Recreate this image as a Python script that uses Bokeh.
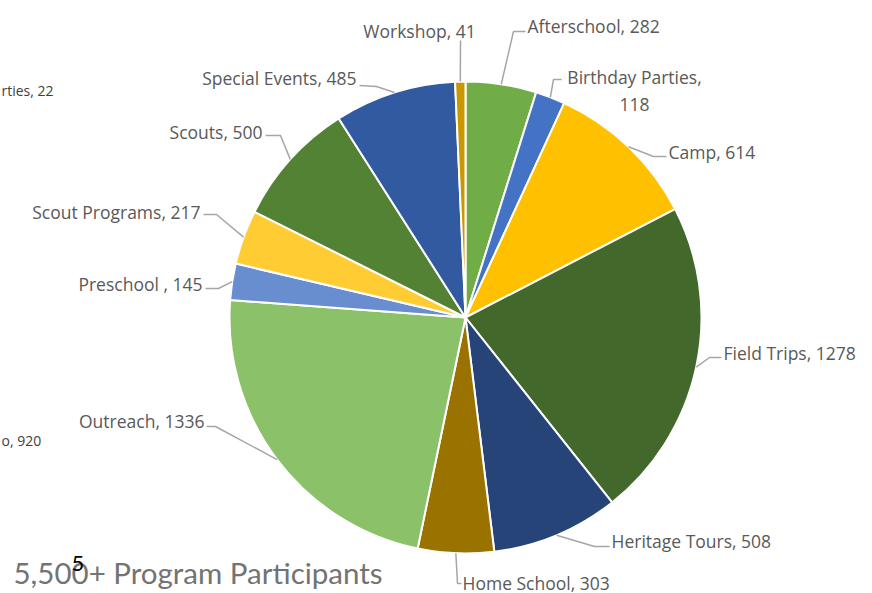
import math
from bokeh.plotting import figure
from bokeh.models import Range1d, ColumnDataSource
from bokeh.core.properties import value
from bokeh.embed import file_html
from bokeh.resources import INLINE

# ---- data ----
categories = ["Afterschool", "Birthday Parties", "Camp", "Field Trips", "Heritage Tours",
              "Home School", "Outreach", "Preschool ", "Scout Programs", "Scouts",
              "Special Events", "Workshop"]
values = [282, 118, 614, 1278, 508, 303, 1336, 145, 217, 500, 485, 41]
colors = ["#70AD47", "#4472C4", "#FFC000", "#43682B", "#264478", "#9A7200",
          "#8BC168", "#698ED0", "#FFCD33", "#548235", "#325AA0", "#C99700"]
title_text = "5,500+ Program Participants"
stray_labels = ["rties, 22", "o, 920"]

# ---- layout (image pixel coordinates) ----
W, H = 872, 593
def Y(img_y):
    return H - img_y

cx, cy, r = 465, Y(317), 236
# text x, text y, align, elbow x, elbow y, end x, end y
label_layout = [
    (527, 25, "left", 513, 31, 525, 31),
    (634, 90, "center", 553, 79, 561, 79),
    (668, 151, "left", 653, 156, 666, 156),
    (723, 352, "left", 709, 357, 721, 357),
    (611, 540, "left", 594, 546, 609, 546),
    (462, 582, "left", 457, 583, 461, 583),
    (204, 420, "right", 215, 426, 206, 426),
    (202, 283, "right", 218, 288, 205, 288),
    (200, 211, "right", 216, 214, 203, 214),
    (262, 131, "right", 280, 135, 265, 135),
    (356, 77, "right", 376, 86, 359, 85),
    (419, 30, "center", 460, 40, 460, 40),
]

p = figure(width=W, height=H, x_range=Range1d(0, W), y_range=Range1d(0, H),
           output_backend="svg", toolbar_location=None, min_border=0,
           x_axis_location=None, y_axis_location=None)
p.grid.visible = False
p.outline_line_color = None
p.background_fill_color = "white"

total = sum(values)
starts, ends, mids = [], [], []
cum = 0
for v in values:
    a0 = cum / total * 2 * math.pi
    cum += v
    a1 = cum / total * 2 * math.pi
    starts.append(math.pi / 2 - a0)
    ends.append(math.pi / 2 - a1)
    mids.append((a0 + a1) / 2)

src = ColumnDataSource(dict(start=starts, end=ends, color=colors, cat=categories, val=values))
p.wedge(x=cx, y=cy, radius=r, start_angle="start", end_angle="end", direction="clock",
        fill_color="color", line_color="white", line_width=2, source=src)

# leader lines
xs, ys = [], []
for m, lay in zip(mids, label_layout):
    sx = cx + r * math.sin(m)
    sy = cy + r * math.cos(m)
    xs.append([sx, lay[3], lay[5]])
    ys.append([sy, Y(lay[4]), Y(lay[6])])
p.multi_line(xs, ys, line_color="#A6A6A6", line_width=1.5)

# labels
FONT = "Open Sans"
for cat, v, lay in zip(categories, values, label_layout):
    if cat == "Birthday Parties":
        txt = f"{cat},\n{v}"
    else:
        txt = f"{cat}, {v}"
    p.text(x=[lay[0]], y=[Y(lay[1])], text=[txt], text_align=lay[2], text_baseline="middle",
           text_font=value(FONT), text_font_size="17.5px", text_color="#595959",
           text_line_height=1.1)

# partial labels at left edge (as they appear in the picture)
p.text(x=[1, 1], y=[Y(90), Y(440)], text=stray_labels, text_align="left",
       text_baseline="middle", text_font=value(FONT), text_font_size="14px",
       text_color="#404040")

# title
p.text(x=[13], y=[Y(572)], text=[title_text], text_align="left", text_baseline="middle",
       text_font=value("Lato"), text_font_size="29.5px", text_color="#737373")
p.text(x=[77.5], y=[Y(563)], text=["5"], text_align="center", text_baseline="middle",
       text_font=value("Lato"), text_font_size="22px", text_color="#000000")

open("out.html", "w").write(file_html(p, INLINE))
